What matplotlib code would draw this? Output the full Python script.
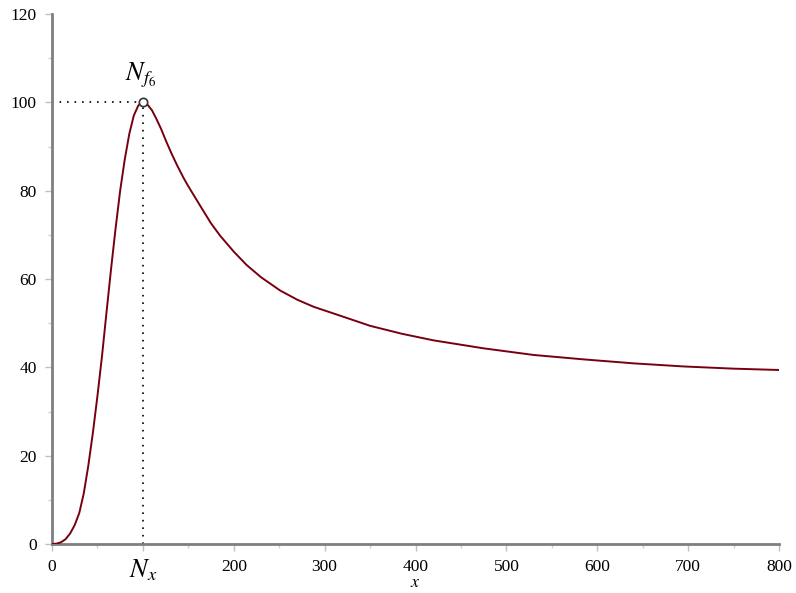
import matplotlib
matplotlib.use("Agg")
import matplotlib.pyplot as plt
from matplotlib.ticker import MultipleLocator

# Data
x_vals = [0, 5, 10, 15, 20, 25, 30, 35, 40, 45, 50, 55, 60, 65, 70, 75, 80, 85,
          90, 95, 100, 105, 110, 115, 120, 126, 132, 138, 145, 150, 163, 175,
          185, 200, 214, 230, 251, 270, 288, 317, 350, 385, 420, 475, 530, 585,
          640, 695, 750, 800]
y_vals = [0, 0.08, 0.4, 1.1, 2.4, 4.3, 7.0, 11.5, 17.8, 25.2, 33.5, 42.5, 52.5,
          62.3, 71.5, 80.0, 87.0, 92.8, 97.0, 99.3, 100, 99.5, 98.2, 96.2, 94.0,
          91.0, 88.2, 85.6, 82.8, 81.0, 76.6, 72.6, 69.8, 66.2, 63.2, 60.4, 57.4,
          55.3, 53.7, 51.7, 49.4, 47.6, 46.1, 44.3, 42.8, 41.8, 40.9, 40.2, 39.7,
          39.4]
peak_x = 100
peak_y = 100
x_ticks = [0, 100, 200, 300, 400, 500, 600, 700, 800]
x_tick_labels = ['0', '', '200', '300', '400', '500', '600', '700', '800']
y_ticks = [0, 20, 40, 60, 80, 100, 120]

plt.rcParams['font.family'] = ['Liberation Serif', 'DejaVu Serif']
plt.rcParams['mathtext.fontset'] = 'stix'

fig = plt.figure(figsize=(7.96, 5.93), dpi=100)
ax = fig.add_axes([52/796, 1-544/593, (779-52)/796, (544-14)/593])

ax.plot(x_vals, y_vals, color='#78000E', lw=1.4, zorder=3)
ax.plot([0, peak_x], [peak_y, peak_y], color='black', lw=1.2, ls=(0, (1, 3.5)), zorder=2)
ax.plot([peak_x, peak_x], [0, peak_y], color='black', lw=1.2, ls=(0, (1, 3.5)), zorder=2)
ax.plot([peak_x], [peak_y], marker='o', ms=6, mfc='white', mec='#333333', mew=1.2, zorder=4)

ax.set_xlim(0, 800)
ax.set_ylim(0, 120)
ax.set_xticks(x_ticks)
ax.set_xticklabels(x_tick_labels)
ax.set_yticks(y_ticks)
ax.xaxis.set_minor_locator(MultipleLocator(50))
ax.yaxis.set_minor_locator(MultipleLocator(10))

for s in ['top', 'right']:
    ax.spines[s].set_visible(False)
for s in ['left', 'bottom']:
    ax.spines[s].set_color('#7f7f7f')
    ax.spines[s].set_linewidth(2)

ax.tick_params(which='major', length=5, width=1, color='#c0c0c0', labelsize=12.5,
               labelcolor='black', pad=6)
ax.tick_params(which='minor', length=3, width=1, color='#d0d0d0')

ax.text(peak_x, -3.0, r'$N_x$', ha='center', va='top', fontsize=19, clip_on=False)
ax.text(peak_x - 3, 102.8, r'$N_{f_6}$', ha='center', va='bottom', fontsize=19)
ax.text(400, -6.8, r'$x$', ha='center', va='top', fontsize=13, clip_on=False)

fig.savefig('out.png', dpi=100)
